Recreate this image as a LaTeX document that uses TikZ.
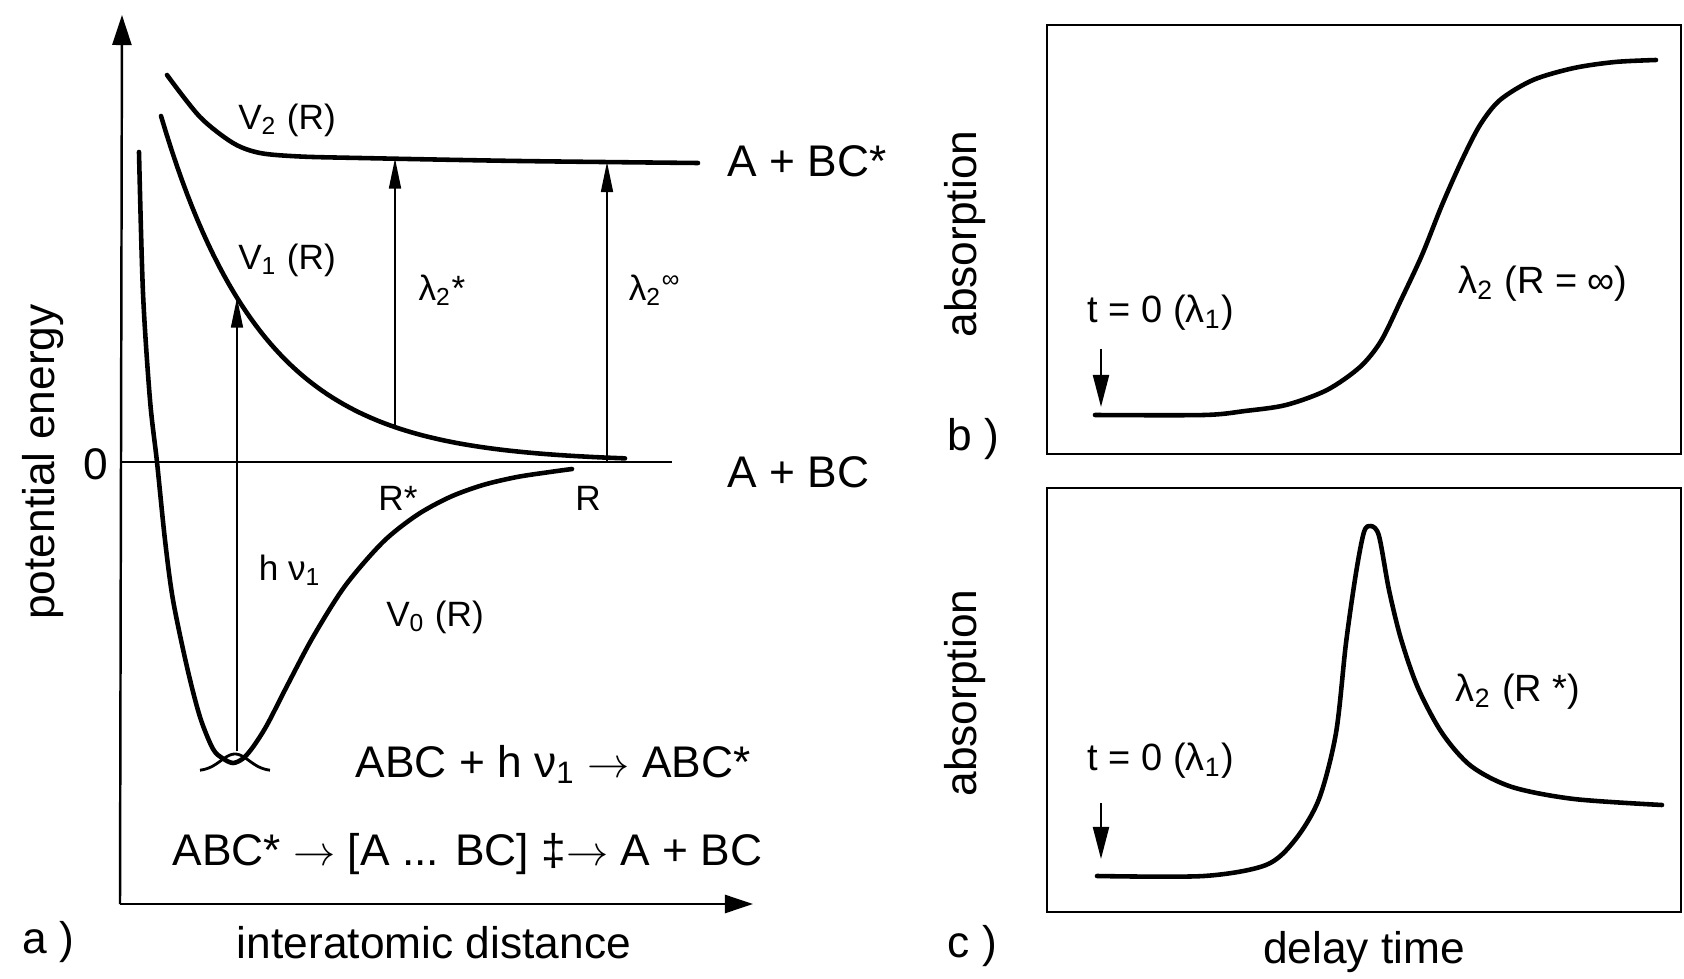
\documentclass[tikz,border=0pt]{standalone}
\usepackage{fontspec}
\setmainfont{Liberation Sans}
\usepackage{tikz}
\usetikzlibrary{positioning, arrows.meta, calc}

\begin{document}
\begin{tikzpicture}[x=0.01cm, y=-0.01cm,
  curve/.style={line width=1.3pt, line cap=round, line join=round},
  axis/.style={line width=0.7pt},
  big/.style={inner sep=0pt, font=\fontsize{12.6}{15}\selectfont},
  lbl/.style={inner sep=0pt, font=\fontsize{10}{12}\selectfont},
  trace/.style={inner sep=0pt, font=\fontsize{10.8}{13}\selectfont},
  probe/.style={line width=0.45pt, -{Triangle[length=3mm, width=1.2mm]}},
  pulse/.style={line width=0.6pt, -{Triangle[length=3.2mm, width=1.6mm]}}]
  \useasboundingbox (0,0) rectangle (1684,979);

  % a) potential curves
  \coordinate (O) at (120,904);
  \coordinate (ytop) at (122,15);
  \coordinate (xend) at (753,904);
  \coordinate (zero0) at (121,462);
  \coordinate (zero1) at (672,462);
  \draw[axis, -{Triangle[length=3mm, width=1.9mm]}] (O) -- (ytop);
  \draw[axis, -{Triangle[length=2.8mm, width=1.8mm]}] (O) -- (xend);
  \draw[axis] (zero0) -- (zero1);

  \draw[curve] plot[smooth] coordinates {(167,75) (200,117) (233,143) (260,153)
    (300,156.5) (360,158) (519,161) (698,163)};
  \draw[curve] plot[domain=161:625, samples=90] (\x, {462-346*exp(-(\x-161)/102)});
  \draw[curve] plot[smooth] coordinates {(139,152) (143,293) (150,400) (157,462) (165,540)
    (173,600) (187,667) (200,717) (213,749) (223,758.5) (233,763) (243,758.5) (253,747)
    (267,725) (287,686) (313,637) (345,586) (383,542) (417,515) (450,497) (483,485)
    (517,477) (550,472) (572,469)};
  \draw[line width=0.8pt] plot[domain=200:270, samples=40] (\x, {771-17*exp(-(\x-235)*(\x-235)/400)});

  \coordinate (well) at (237,751);
  \coordinate (onV1) at (237,{462-346*exp(-(237-161)/102)});
  \coordinate (Rs0) at (395,{462-346*exp(-(395-161)/102)});
  \coordinate (Rs1) at (395,158.5);
  \coordinate (Rinf0) at (607,462);
  \coordinate (Rinf1) at (607,162);
  \draw[probe] (well) -- (onV1);
  \draw[probe] (Rs0) -- (Rs1);
  \draw[probe] (Rinf0) -- (Rinf1);

  \node[lbl] (V2lab) at (287,120) {V\textsubscript{2} (R)};
  \node[lbl] (V1lab) at (287,260) {V\textsubscript{1} (R)};
  \node[lbl] (V0lab) at (435,617) {V\textsubscript{0} (R)};
  \node[lbl] (l2star) at (442,290) {λ\textsubscript{2}*};
  \node[lbl] (l2inf) at (655,290) {λ\textsubscript{2}\textsuperscript{∞}};
  \node[lbl] (Rstar) at (398,498) {R*};
  \node[lbl] (Rlab) at (588,498) {R};
  \node[lbl] (hnu) at (290,570) {h ν\textsubscript{1}};
  \node[big] (zero) at (96,464) {0};
  \node[big, anchor=base west] (ABCs) at (727,177) {A + BC*};
  \node[big, anchor=base west] (ABC) at (727,488) {A + BC};
  \node[big, anchor=base west] (eq1) at (355,777) {ABC + h ν\textsubscript{1} $\rightarrow$ ABC*};
  \node[big, anchor=base west] (eq2) at (172,865) {ABC* $\rightarrow$ [A ... BC] ‡$\rightarrow$ A + BC};
  \node[big, rotate=90] (ylab) at (43,462) {potential energy};
  \node[big, anchor=base] (xlab) at (434,958) {interatomic distance};
  \node[big, anchor=base west] (pa) at (22,953) {a )};

  % b) rise to the free fragment
  \coordinate (bNW) at (1047,25);
  \coordinate (bSE) at (1681,454);
  \draw[axis] (bNW) rectangle (bSE);
  \draw[curve] plot[smooth] coordinates {(1095,415) (1204,415) (1245,411) (1286,405)
    (1327,390) (1360,367) (1381,341) (1401,300) (1422,255) (1442,205) (1462,160)
    (1480,125) (1500,100) (1533,80) (1574,68) (1615,62) (1656,60)};
  \coordinate (b0) at (1101,349);
  \coordinate (b1) at (1101,407);
  \draw[pulse] (b0) -- (b1);
  \node[trace] (tb) at (1161,313) {t = 0 (λ\textsubscript{1})};
  \node[trace] (lb) at (1543,284) {λ\textsubscript{2} (R = ∞)};
  \node[big, rotate=90] (yb) at (965,234) {absorption};
  \node[big, anchor=base west] (pb) at (947,450) {b )};

  % c) transient at R*
  \coordinate (cNW) at (1047,488);
  \coordinate (cSE) at (1681,912);
  \draw[axis] (cNW) rectangle (cSE);
  \draw[curve] plot[smooth] coordinates {(1097,876) (1204,876) (1266,865) (1295,840)
    (1319,799) (1336,733) (1346,643) (1356,573) (1364,532) (1371,526) (1379,536)
    (1389,590) (1401,639) (1418,688) (1442,733) (1471,766) (1512,787) (1574,799) (1662,805)};
  \coordinate (c0) at (1101,803);
  \coordinate (c1) at (1101,859);
  \draw[pulse] (c0) -- (c1);
  \node[trace] (tc) at (1161,761) {t = 0 (λ\textsubscript{1})};
  \node[trace] (lc) at (1518,692) {λ\textsubscript{2} (R *)};
  \node[big, rotate=90] (yc) at (965,693) {absorption};
  \node[big, anchor=base west] (pc) at (947,957) {c )};
  \node[big, anchor=base] (tlab) at (1364,963) {delay time};
\end{tikzpicture}
\end{document}
